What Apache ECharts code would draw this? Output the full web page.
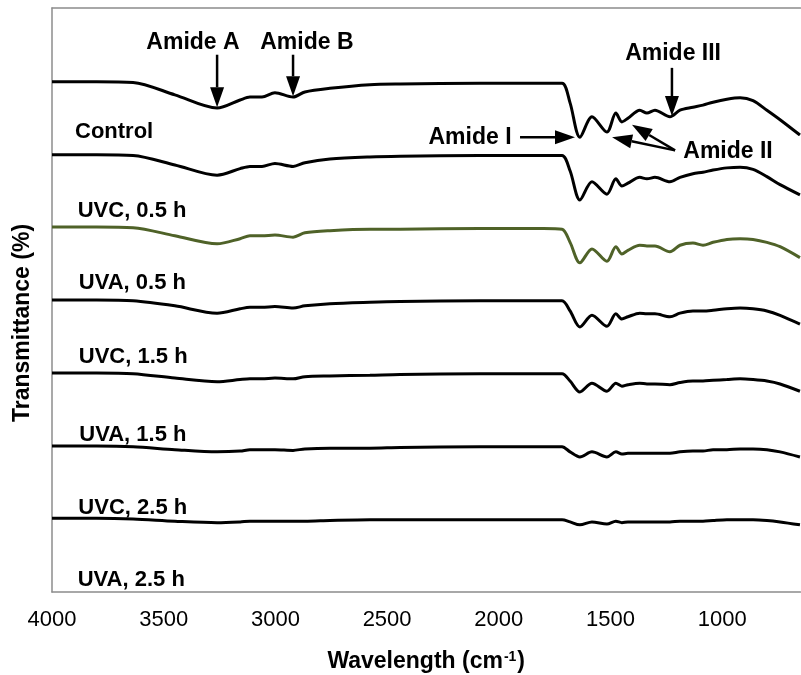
<!DOCTYPE html>
<html><head><meta charset="utf-8">
<script src="https://cdn.jsdelivr.net/npm/echarts@6/dist/echarts.min.js"></script>
<style>html,body{margin:0;padding:0;background:#fff}#c{width:801px;height:675px}</style>
</head><body><div id="c"></div>
<script>
// Wavenumbers (cm-1) shared by all spectra
const wavenumbers = [4000, 3800, 3637, 3450, 3261, 3158, 3114, 3060, 3002, 2921,
  2868, 2756, 2577, 2442, 2084, 1800, 1717, 1681, 1637, 1583,
  1516, 1476, 1449, 1422, 1369, 1337, 1301, 1234, 1189, 1131,
  1086, 1041, 979, 920, 862, 800, 741, 652];

// Offset transmittance values for each spectrum
const control = [69.9, 69.9, 69.8, 68.1, 66.3, 67.4, 67.8, 67.8, 68.4, 67.8,
  68.5, 69.0, 69.5, 69.6, 69.7, 69.7, 69.7, 67.0, 62.3, 65.1,
  63.0, 65.6, 64.4, 64.9, 66.0, 65.6, 66.0, 65.1, 66.0, 66.4,
  66.7, 67.1, 67.5, 67.7, 67.3, 66.0, 64.7, 62.6];
const uvc05 = [59.9, 59.9, 59.8, 58.5, 57.1, 58.0, 58.3, 58.3, 58.7, 58.3,
  58.8, 59.3, 59.6, 59.7, 59.8, 59.8, 59.8, 57.7, 53.7, 56.2,
  54.5, 56.6, 55.6, 56.0, 56.8, 56.6, 56.8, 56.2, 56.8, 57.3,
  57.5, 57.8, 58.1, 58.2, 57.9, 56.9, 55.8, 54.4];
const uva05 = [50.0, 50.0, 49.9, 48.8, 47.7, 48.4, 48.8, 48.8, 48.9, 48.6,
  49.2, 49.5, 49.7, 49.7, 49.8, 49.8, 49.7, 47.9, 45.1, 47.0,
  45.3, 47.3, 46.3, 46.8, 47.5, 47.4, 47.4, 46.6, 47.5, 47.8,
  47.5, 47.9, 48.3, 48.4, 48.3, 47.9, 47.3, 45.8];
const uvc15 = [40.0, 40.0, 39.9, 39.2, 38.2, 38.8, 39.0, 39.0, 39.1, 38.9,
  39.2, 39.5, 39.7, 39.8, 39.9, 39.9, 39.9, 38.5, 36.3, 37.9,
  36.4, 38.1, 37.4, 37.7, 38.2, 38.1, 38.1, 37.7, 38.2, 38.5,
  38.5, 38.6, 38.8, 38.9, 38.8, 38.5, 37.9, 36.7];
const uva15 = [30.0, 30.0, 29.9, 29.3, 28.8, 29.1, 29.2, 29.2, 29.3, 29.2,
  29.5, 29.6, 29.7, 29.8, 29.9, 29.9, 29.9, 28.9, 27.4, 28.6,
  27.5, 28.6, 28.2, 28.4, 28.6, 28.5, 28.5, 28.4, 28.7, 28.9,
  28.9, 29.0, 29.1, 29.2, 29.1, 28.9, 28.5, 27.5];
const uvc25 = [20.0, 20.0, 19.9, 19.5, 19.2, 19.3, 19.5, 19.5, 19.5, 19.4,
  19.6, 19.7, 19.7, 19.8, 19.9, 19.9, 19.9, 19.2, 18.5, 19.2,
  18.5, 19.2, 18.9, 19.0, 19.0, 19.0, 19.0, 19.0, 19.2, 19.3,
  19.3, 19.5, 19.5, 19.6, 19.6, 19.5, 19.2, 18.5];
const uva25 = [10.1, 10.1, 10.0, 9.7, 9.5, 9.6, 9.7, 9.7, 9.7, 9.7,
  9.7, 9.8, 9.9, 9.9, 9.9, 9.9, 9.9, 9.6, 9.2, 9.6,
  9.3, 9.7, 9.5, 9.6, 9.6, 9.6, 9.6, 9.6, 9.7, 9.7,
  9.7, 9.8, 9.9, 9.9, 9.9, 9.8, 9.6, 9.2];

const seriesNames = ['Control', 'UVC, 0.5 h', 'UVA, 0.5 h', 'UVC, 1.5 h', 'UVA, 1.5 h', 'UVC, 2.5 h', 'UVA, 2.5 h'];
const seriesValues = [control, uvc05, uva05, uvc15, uva15, uvc25, uva25];
const tickLabels = [4000, 3500, 3000, 2500, 2000, 1500, 1000];

// Annotation anchors in data coordinates [wavenumber, value]
const seriesLabelAt = [[3897, 63.0], [3885, 52.2], [3880, 42.3], [3880, 32.2], [3878, 21.5], [3882, 11.5], [3885, 1.6]];
const amideLabels = [
  {text: 'Amide A', at: [3369, 75.2]},
  {text: 'Amide B', at: [2859, 75.2]},
  {text: 'Amide III', at: [1220, 73.7]},
  {text: 'Amide I', at: [2129, 62.3]},
  {text: 'Amide II', at: [974, 60.3]}
];
const amideArrows = [
  {from: [3261, 73.6], to: [3261, 66.4]},
  {from: [2921, 73.6], to: [2921, 67.9]},
  {from: [1225, 71.8], to: [1225, 65.2]},
  {from: [1905, 62.3], to: [1659, 62.3]},
  {from: [1211, 60.5], to: [1493, 62.3]},
  {from: [1211, 60.5], to: [1404, 64.0]}
];

const FONT = '"Liberation Sans", Arial, Helvetica, sans-serif';
const colors = ['#000000', '#000000', '#4F6228', '#000000', '#000000', '#000000', '#000000'];
const axisGray = '#8c8c8c';

const chart = echarts.init(document.getElementById('c'), null, {renderer: 'canvas'});
const option = {
  animation: false,
  backgroundColor: '#ffffff',
  grid: {left: 52, right: 0.6, top: 8, bottom: 83, containLabel: false, outerBoundsMode: 'none'},
  xAxis: [{
    type: 'value', inverse: true, min: 650, max: 4000, interval: 50,
    axisLine: {show: true, onZero: false, lineStyle: {color: axisGray, width: 1.5}},
    axisTick: {show: false}, splitLine: {show: false},
    axisLabel: {
      margin: 17, color: '#000', fontFamily: FONT, fontSize: 22,
      formatter: v => tickLabels.indexOf(v) >= 0 ? String(v) : ''
    },
    name: '{a|Wavelength (cm}{s|-1}{a|)}',
    nameLocation: 'middle', nameGap: 58,
    nameTextStyle: {
      rich: {
        a: {fontFamily: FONT, fontSize: 23, fontWeight: 'bold', color: '#000'},
        s: {fontFamily: FONT, fontSize: 14, fontWeight: 'bold', color: '#000', verticalAlign: 'top', padding: [0, 1, 10, 1]}
      }
    }
  }, {
    type: 'value', position: 'top', inverse: true, min: 650, max: 4000,
    axisLine: {show: true, onZero: false, lineStyle: {color: axisGray, width: 1.5}},
    axisTick: {show: false}, axisLabel: {show: false}, splitLine: {show: false}
  }],
  yAxis: {
    type: 'value', min: 0, max: 80,
    axisLine: {show: true, onZero: false, lineStyle: {color: axisGray, width: 1.5}},
    axisTick: {show: false}, axisLabel: {show: false}, splitLine: {show: false}
  },
  series: seriesValues.map((vals, i) => ({
    name: seriesNames[i], type: 'line', xAxisIndex: 0, yAxisIndex: 0,
    data: wavenumbers.map((w, j) => [w, vals[j]]),
    showSymbol: false, smooth: 0.3, z: 3,
    lineStyle: {color: colors[i], width: 3},
    itemStyle: {color: colors[i]}
  }))
};
chart.setOption(option);

const px = p => chart.convertToPixel({xAxisIndex: 0, yAxisIndex: 0}, p);
const g = [];
seriesNames.forEach((n, i) => {
  const p = px(seriesLabelAt[i]);
  g.push({type: 'text', x: p[0], y: p[1], z: 10, style: {text: n, fontFamily: FONT, fontSize: 22, fontWeight: 'bold', fill: '#000', align: 'left', verticalAlign: 'middle'}});
});
amideLabels.forEach(l => {
  const p = px(l.at);
  g.push({type: 'text', x: p[0], y: p[1], z: 10, style: {text: l.text, fontFamily: FONT, fontSize: 23, fontWeight: 'bold', fill: '#000', align: 'center', verticalAlign: 'middle'}});
});
amideArrows.forEach(a => {
  const t = px(a.from), h = px(a.to);
  const dx = h[0] - t[0], dy = h[1] - t[1];
  const len = Math.sqrt(dx * dx + dy * dy);
  const ux = dx / len, uy = dy / len;
  const headLen = 20, hw = 7;
  const bx = h[0] - ux * headLen, by = h[1] - uy * headLen;
  const nx = -uy, ny = ux;
  g.push({type: 'line', z: 10, shape: {x1: t[0], y1: t[1], x2: bx, y2: by}, style: {stroke: '#000', lineWidth: 2.5}});
  g.push({type: 'polygon', z: 10, shape: {points: [[h[0], h[1]], [bx + nx * hw, by + ny * hw], [bx - nx * hw, by - ny * hw]]}, style: {fill: '#000'}});
});
g.push({type: 'text', x: 23, y: 323, rotation: Math.PI / 2, z: 10, style: {text: 'Transmittance (%)', fontFamily: FONT, fontSize: 23, fontWeight: 'bold', fill: '#000', align: 'center', verticalAlign: 'middle'}});
chart.setOption({graphic: {elements: g}});
</script>
</body></html>
